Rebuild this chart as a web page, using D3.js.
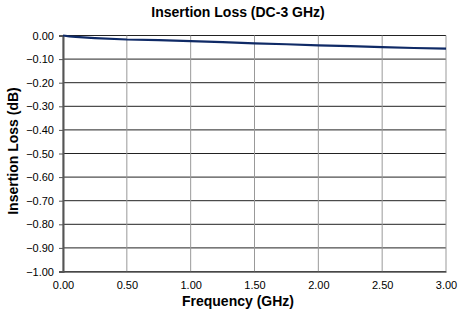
<!DOCTYPE html>
<html><head><meta charset="utf-8">
<script src="https://cdn.jsdelivr.net/npm/d3@7"></script>
<style>body{margin:0;background:#fff}svg{display:block}text{font-family:"Liberation Sans",Arial,sans-serif}</style>
</head><body>
<script>
const freqGHz = [0.00, 0.05, 0.10, 0.25, 0.50, 0.75, 1.00, 1.25, 1.50, 1.75, 2.00, 2.25, 2.50, 2.75, 3.00];
const lossDB  = [0.000, -0.004, -0.006, -0.011, -0.017, -0.020, -0.024, -0.028, -0.033, -0.037, -0.042, -0.045, -0.049, -0.053, -0.056];
const xTicks = [0, 0.5, 1, 1.5, 2, 2.5, 3];
const yTicks = [0, -0.1, -0.2, -0.3, -0.4, -0.5, -0.6, -0.7, -0.8, -0.9, -1.0];

const W = 458, H = 320;
const svg = d3.select("body").append("svg").attr("width", W).attr("height", H);
const x = d3.scaleLinear().domain([0, 3]).range([63, 446]);
const y = d3.scaleLinear().domain([-1, 0]).range([271.5, 35.5]);

// gridlines
svg.append("g").selectAll("line").data(yTicks).join("line")
  .attr("x1", x(0)).attr("x2", x(3)).attr("y1", d => y(d)).attr("y2", d => y(d))
  .attr("stroke", "#222").attr("stroke-width", 1);
svg.append("g").selectAll("line").data(xTicks).join("line")
  .attr("y1", y(0)).attr("y2", y(-1)).attr("x1", d => x(d)).attr("x2", d => x(d))
  .attr("stroke", "#999").attr("stroke-width", 1);

// left axis
const ya = svg.append("g").attr("transform", `translate(${x(0)},0)`)
  .call(d3.axisLeft(y).tickValues(yTicks).tickFormat(d3.format(".2f")).tickSize(4).tickPadding(5));
ya.select(".domain").attr("stroke", "#555").attr("stroke-width", 2);
ya.selectAll(".tick line").attr("stroke", "#555");
ya.selectAll("text").attr("font-size", 11).attr("fill", "#000").attr("font-family", "Liberation Sans, Arial, sans-serif");

// bottom axis
const xa = svg.append("g").attr("transform", `translate(0,${y(-1)})`)
  .call(d3.axisBottom(x).tickValues(xTicks).tickFormat(d3.format(".2f")).tickSize(0).tickPadding(10));
xa.select(".domain").attr("stroke", "#555").attr("stroke-width", 1.5);
xa.selectAll("text").attr("font-size", 11).attr("fill", "#000").attr("font-family", "Liberation Sans, Arial, sans-serif");

// line
svg.append("path").datum(freqGHz.map((f, i) => [f, lossDB[i]]))
  .attr("fill", "none").attr("stroke", "#0f2a66").attr("stroke-width", 2.2)
  .attr("d", d3.line().x(d => x(d[0])).y(d => y(d[1])));

// titles
svg.append("text").attr("x", 238).attr("y", 17).attr("text-anchor", "middle")
  .attr("font-size", 14).attr("font-weight", "bold").text("Insertion Loss (DC-3 GHz)");
svg.append("text").attr("x", 238).attr("y", 306).attr("text-anchor", "middle")
  .attr("font-size", 14).attr("font-weight", "bold").text("Frequency (GHz)");
svg.append("text").attr("transform", "translate(18,151) rotate(-90)").attr("text-anchor", "middle")
  .attr("font-size", 14).attr("font-weight", "bold").text("Insertion Loss (dB)");
</script>
</body></html>
